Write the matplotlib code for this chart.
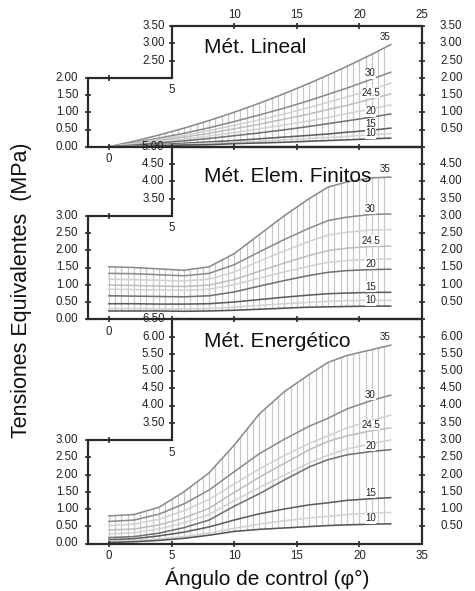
import matplotlib
matplotlib.use("Agg")
import matplotlib.pyplot as plt
import numpy as np

plt.rcParams['font.family'] = ['Liberation Sans', 'DejaVu Sans']

# abscissa knots (control angle, deg) shared by every curve
x_knots = [0, 2, 4, 6, 8, 10, 12, 14, 16, 17.5, 19, 21, 22.5]
# curve labels, top to bottom ("" = unlabeled intermediate curve)
curve_names = ["35", "30", "", "24.5", "", "20", "15", "", "10"]
curve_colors = ["#8c8c8c", "#8c8c8c", "#d2d2d2", "#bebebe", "#d2d2d2",
                "#727272", "#5e5e5e", "#d2d2d2", "#555555"]

# Mét. Lineal
lineal = [
    [0, 0.16, 0.34, 0.54, 0.76, 1.00, 1.26, 1.54, 1.84, 2.08, 2.33, 2.68, 2.96],
    [0, 0.12, 0.25, 0.39, 0.55, 0.73, 0.92, 1.12, 1.34, 1.52, 1.70, 1.96, 2.16],
    [0, 0.10, 0.21, 0.33, 0.47, 0.62, 0.78, 0.95, 1.14, 1.29, 1.44, 1.66, 1.84],
    [0, 0.08, 0.18, 0.28, 0.39, 0.52, 0.65, 0.80, 0.95, 1.08, 1.20, 1.39, 1.53],
    [0, 0.07, 0.14, 0.22, 0.31, 0.41, 0.52, 0.63, 0.75, 0.85, 0.96, 1.10, 1.21],
    [0, 0.05, 0.11, 0.17, 0.24, 0.32, 0.40, 0.49, 0.59, 0.67, 0.75, 0.86, 0.95],
    [0, 0.03, 0.06, 0.10, 0.14, 0.18, 0.23, 0.28, 0.33, 0.37, 0.42, 0.48, 0.54],
    [0, 0.02, 0.04, 0.07, 0.10, 0.13, 0.16, 0.20, 0.24, 0.27, 0.30, 0.35, 0.38],
    [0, 0.01, 0.03, 0.05, 0.06, 0.09, 0.11, 0.13, 0.16, 0.18, 0.20, 0.23, 0.25],
]
# Mét. Elem. Finitos
finitos = [
    [1.52, 1.50, 1.46, 1.42, 1.52, 1.90, 2.45, 3.00, 3.50, 3.83, 3.98, 4.10, 4.12],
    [1.33, 1.32, 1.29, 1.26, 1.33, 1.58, 1.95, 2.31, 2.64, 2.86, 2.96, 3.04, 3.05],
    [1.16, 1.15, 1.13, 1.11, 1.16, 1.37, 1.68, 1.98, 2.26, 2.44, 2.52, 2.59, 2.60],
    [0.99, 0.98, 0.96, 0.95, 0.99, 1.15, 1.39, 1.63, 1.85, 1.99, 2.06, 2.11, 2.12],
    [0.87, 0.86, 0.85, 0.84, 0.87, 1.00, 1.19, 1.37, 1.54, 1.65, 1.70, 1.74, 1.75],
    [0.68, 0.67, 0.66, 0.65, 0.68, 0.79, 0.96, 1.12, 1.27, 1.36, 1.41, 1.44, 1.45],
    [0.45, 0.45, 0.44, 0.44, 0.45, 0.50, 0.57, 0.64, 0.70, 0.74, 0.76, 0.78, 0.78],
    [0.31, 0.31, 0.30, 0.30, 0.31, 0.35, 0.40, 0.45, 0.49, 0.52, 0.54, 0.55, 0.55],
    [0.24, 0.24, 0.24, 0.23, 0.24, 0.26, 0.29, 0.32, 0.35, 0.36, 0.37, 0.38, 0.38],
]
# Mét. Energético
energetico = [
    [0.80, 0.84, 1.05, 1.50, 2.05, 2.85, 3.75, 4.40, 4.90, 5.25, 5.45, 5.62, 5.75],
    [0.64, 0.68, 0.85, 1.15, 1.55, 2.08, 2.60, 3.02, 3.40, 3.63, 3.90, 4.15, 4.30],
    [0.52, 0.56, 0.70, 0.95, 1.28, 1.72, 2.16, 2.55, 2.90, 3.12, 3.35, 3.57, 3.72],
    [0.39, 0.42, 0.54, 0.74, 1.02, 1.48, 1.92, 2.32, 2.72, 2.96, 3.12, 3.27, 3.35],
    [0.28, 0.31, 0.42, 0.60, 0.84, 1.24, 1.62, 1.98, 2.34, 2.56, 2.74, 2.90, 3.00],
    [0.17, 0.20, 0.30, 0.46, 0.68, 1.08, 1.44, 1.84, 2.22, 2.43, 2.57, 2.67, 2.72],
    [0.11, 0.14, 0.22, 0.33, 0.48, 0.68, 0.86, 1.00, 1.12, 1.18, 1.25, 1.30, 1.33],
    [0.06, 0.08, 0.13, 0.20, 0.30, 0.44, 0.56, 0.66, 0.74, 0.79, 0.84, 0.88, 0.90],
    [0.03, 0.05, 0.09, 0.15, 0.24, 0.35, 0.41, 0.45, 0.49, 0.52, 0.54, 0.56, 0.57],
]

titles = ["Mét. Lineal", "Mét. Elem. Finitos", "Mét. Energético"]
title_y = [2.87, 4.14, 5.86]
y_tops = [3.5, 5.0, 6.5]
y_steps = [2.0, 3.0, 3.0]
panels = [lineal, finitos, energetico]

X_LEFT, X_RIGHT = -1.67, 25
PX = 34.5                       # pixels per MPa
ink = "#2a2a2a"
tick_fs = 8.3

fig = plt.figure(figsize=(4.75, 5.91), dpi=100)
top_px = 26
for i, (curves, top, step) in enumerate(zip(panels, y_tops, y_steps)):
    h = top * PX
    ax = fig.add_axes([88 / 475, 1 - (top_px + h) / 591, 334 / 475, h / 591])
    top_px += h
    ax.set_xlim(X_LEFT, X_RIGHT)
    ax.set_ylim(0, top)
    ax.axis("off")

    xs = np.array(x_knots)
    # vertical mesh lines, clipped to the band between top and bottom curves
    band = ax.fill_between(xs, curves[-1], curves[0], facecolor="none", edgecolor="none")
    vl = ax.vlines(np.arange(0, 22.51, 0.5), 0, top, colors="#c8c8c8", lw=0.9, zorder=1)
    vl.set_clip_path(band.get_paths()[0], ax.transData)

    for name, col, vals in zip(curve_names, curve_colors, curves):
        ax.plot(xs, vals, color=col, lw=1.15, zorder=2)
        if name == "35":
            ax.annotate(name, (xs[-1], vals[-1]), xytext=(-4, 2), textcoords="offset points",
                        ha="center", va="bottom", fontsize=7, color="#222")
        elif name:
            ax.annotate(name, (xs[11], vals[11]), xytext=(-1, 0.5), textcoords="offset points",
                        ha="center", va="bottom", fontsize=7, color="#222", zorder=3,
                        bbox=dict(facecolor="white", edgecolor="none", pad=0.3))

    # stepped frame
    ax.plot([X_LEFT, X_RIGHT, X_RIGHT, 5, 5, X_LEFT, X_LEFT],
            [0, 0, top, top, step, step, 0],
            color=ink, lw=1.6, clip_on=False, zorder=5, solid_joinstyle="miter")

    kw = dict(color=ink, ls="none", ms=5, mew=1.2, clip_on=False, zorder=5)
    left_t = np.arange(0, step + 0.01, 0.5)
    upper_t = np.arange(step + 0.5, top + 0.01, 0.5)
    right_t = np.arange(0.5, top + 0.01, 0.5)
    ax.plot([X_LEFT] * len(left_t), left_t, marker="_", **kw)
    ax.plot([5] * len(upper_t), upper_t, marker="_", **kw)
    ax.plot([X_RIGHT] * len(right_t), right_t, marker="_", **kw)
    ax.plot([0, 5, 10, 15, 20], [0] * 5, marker="|", **kw)
    ax.plot([0], [step], marker="|", **kw)

    lab = dict(textcoords="offset points", fontsize=tick_fs, color="#222")
    for v in left_t:
        ax.annotate(f"{v:.2f}", (X_LEFT, v), xytext=(-7, 0), ha="right", va="center", **lab)
    for v in upper_t:
        ax.annotate(f"{v:.2f}", (5, v), xytext=(-5, 0), ha="right", va="center", **lab)
    right_lab = right_t if i == 0 else right_t[:-1]
    for v in right_lab:
        ax.annotate(f"{v:.2f}", (X_RIGHT, v), xytext=(13, 0), ha="left", va="center", **lab)
    ax.annotate("5", (5, step), xytext=(0, -9), ha="center", va="center", **lab)

    if i == 0:
        ax.plot([10, 15, 20], [top] * 3, marker="|", **kw)
        for xv in [10, 15, 20, 25]:
            ax.annotate(str(xv), (xv, top), xytext=(0, 8), ha="center", va="center", **lab)
    if i < 2:
        ax.annotate("0", (0, 0), xytext=(0, -9), ha="center", va="center", **lab)
    else:
        for xv, s in zip([0, 5, 10, 15, 20, 25], ["0", "5", "10", "15", "20", "35"]):
            ax.annotate(s, (xv, 0), xytext=(0, -9), ha="center", va="center", **lab)

    ax.text(7.6, title_y[i], titles[i], ha="left", va="center", fontsize=15, color="#111")

fig.text(22 / 475, 1 - 290 / 591, "Tensiones Equivalentes  (MPa)", rotation=90,
         ha="center", va="center", fontsize=15.5, color="#111")
fig.text(267 / 475, 1 - 578 / 591, "Ángulo de control (φ°)",
         ha="center", va="center", fontsize=15, color="#111")

fig.savefig("out.png", dpi=100)
